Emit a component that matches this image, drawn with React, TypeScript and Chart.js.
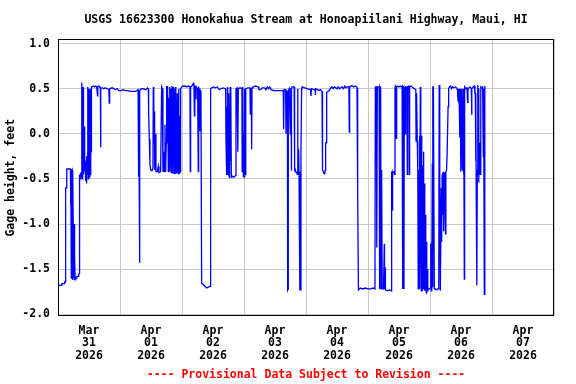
import React, { useEffect, useRef } from 'react';
import { Chart, registerables } from 'chart.js';

Chart.register(...registerables);

const TITLE = 'USGS 16623300 Honokahua Stream at Honoapiilani Highway, Maui, HI';
const FOOTER = '---- Provisional Data Subject to Revision ----';
const Y_TITLE = 'Gage height, feet';

// x axis: hours since 2026-03-31 00:00 (local), one label per day at noon
const dayLabels: string[][] = [
  ['Mar', '31', '2026'],
  ['Apr', '01', '2026'],
  ['Apr', '02', '2026'],
  ['Apr', '03', '2026'],
  ['Apr', '04', '2026'],
  ['Apr', '05', '2026'],
  ['Apr', '06', '2026'],
  ['Apr', '07', '2026'],
];
const xTickHours = [0, 12, 24, 36, 48, 60, 72, 84, 96, 108, 120, 132, 144, 156, 168, 180, 192];
const yTicks = [-2, -1.5, -1, -0.5, 0, 0.5, 1];

// gage height readings [hour, feet], grouped by day
const mar31: [number, number][] = [
  [0, -1.68], [1.4, -1.68], [1.5, -1.66], [2.5, -1.66], [2.6, -1.64], [2.8, -1.64], [2.9, -1.5],
  [3.0, -0.6], [3.2, -0.6], [3.4, -0.39], [4.8, -0.39], [4.9, -0.8], [5.0, -0.4], [5.15, -1.6],
  [5.3, -0.41], [5.45, -0.4], [5.6, -1.62], [5.75, -0.4], [5.9, -1.0], [6.05, -1.6], [6.2, -1.0],
  [6.35, -1.62], [6.5, -1.36], [6.65, -1.62], [6.8, -1.6], [7.2, -1.6], [7.3, -1.58], [7.8, -1.58],
  [8.0, -1.56], [8.2, -1.55], [8.3, -0.45], [8.4, -0.45], [8.6, -0.5], [8.8, -0.43], [9.0, -0.47],
  [9.15, -0.44], [9.28, 0.57], [9.4, -0.5], [9.55, -0.4], [9.7, 0.52], [9.8, 0.0], [9.95, -0.45],
  [10.1, -0.35], [10.25, 0.08], [10.4, -0.38], [10.55, -0.3], [10.7, -0.52], [10.85, -0.35],
  [11.0, -0.55], [11.15, -0.25], [11.3, -0.45], [11.45, -0.18], [11.6, 0.52], [11.7, -0.5],
  [11.85, 0.5], [11.95, -0.2], [12.1, -0.48], [12.2, 0.48], [12.35, -0.3], [12.5, 0.5],
  [12.6, -0.46], [12.75, 0.5], [12.85, -0.2], [12.95, 0.52], [13.2, 0.52], [13.8, 0.53],
  [14.2, 0.52], [14.6, 0.53], [15.0, 0.52], [15.3, 0.42], [15.4, 0.52], [15.9, 0.53], [16.4, 0.51],
  [16.5, -0.15], [16.6, 0.51], [17.2, 0.51], [17.7, 0.5], [18.3, 0.51], [19.0, 0.5], [19.7, 0.49],
  [19.85, 0.34], [20.0, 0.5], [21.0, 0.51], [22.2, 0.49], [23.0, 0.5], [23.5, 0.48],
];
const apr01: [number, number][] = [
  [24.5, 0.48], [25.2, 0.49], [26.0, 0.48], [27.0, 0.48], [28.0, 0.47], [29.0, 0.47], [30.0, 0.47],
  [30.6, 0.48], [31.0, 0.49], [31.2, -0.47], [31.4, -0.47], [31.55, -1.43], [31.7, 0.48],
  [32.3, 0.5], [33.0, 0.5], [34.0, 0.49], [34.6, 0.51], [34.96, 0.5], [35.08, 0.25], [35.34, -0.06],
  [35.6, -0.34], [35.86, -0.4], [36.38, -0.41], [36.76, -0.38], [36.89, 0.52], [37.02, 0.5],
  [37.15, -0.1], [37.28, 0.25], [37.41, -0.4], [37.67, 0.0], [37.92, -0.42], [38.44, -0.42],
  [38.83, -0.36], [39.08, -0.43], [39.73, -0.42], [40.12, 0.52], [40.38, 0.5], [40.63, -0.42],
  [40.89, -0.2], [41.15, -0.42], [41.41, 0.1], [41.66, -0.42], [41.92, -0.1], [42.05, 0.53],
  [42.31, -0.1], [42.44, 0.53], [42.7, -0.42], [42.83, 0.4], [43.08, -0.3], [43.21, 0.52],
  [43.34, -0.42], [43.6, 0.5], [43.73, -0.2], [43.86, -0.43], [44.12, 0.53], [44.25, -0.4],
  [44.37, 0.2], [44.5, -0.44], [44.63, 0.52], [44.76, -0.3], [44.89, 0.0], [45.02, -0.44],
  [45.15, 0.5], [45.28, -0.42], [45.41, 0.3], [45.54, -0.44], [45.67, 0.52], [45.8, -0.35],
  [45.92, 0.1], [46.05, -0.44], [46.18, 0.45], [46.31, -0.42], [46.44, -0.1], [46.57, -0.44],
  [46.7, 0.5], [46.83, -0.4], [46.95, 0.1], [47.08, -0.44], [47.21, 0.2], [47.34, -0.42],
  [47.47, 0.5], [47.86, 0.52],
];
const apr02: [number, number][] = [
  [48.5, 0.53], [49.15, 0.53], [49.79, 0.52], [50.44, 0.53], [51.08, 0.52], [51.21, -0.42],
  [51.34, 0.52], [51.86, 0.53], [52.12, 0.55], [52.38, 0.56], [52.63, 0.54], [52.8, 0.2],
  [52.95, 0.53], [53.28, 0.52], [53.41, 0.38], [53.54, 0.52], [54.05, 0.5], [54.31, -0.42],
  [54.44, 0.5], [54.7, 0.48], [54.9, 0.03], [55.05, 0.48], [55.34, 0.45], [55.6, -1.66],
  [56.25, -1.67], [56.89, -1.69], [57.54, -1.71], [58.18, -1.7], [58.96, -1.69], [59.08, 0.5],
  [59.47, 0.51], [60.12, 0.52], [60.76, 0.51], [61.66, 0.52], [62.44, 0.49], [62.96, 0.5],
  [64.0, 0.51], [64.89, 0.5], [65.02, -0.06], [65.28, -0.45], [65.4, 0.3], [65.5, -0.42],
  [65.65, 0.52], [65.75, -0.2], [65.9, -0.45], [66.05, 0.45], [66.2, -0.47], [66.35, 0.1],
  [66.5, -0.48], [66.65, 0.52], [66.8, -0.3], [66.96, 0.52], [67.1, -0.48], [67.3, -0.47],
  [67.6, -0.47], [68.0, -0.48], [68.5, -0.47], [68.85, -0.46], [68.9, 0.5], [69.3, 0.51],
  [69.55, 0.5], [69.66, -0.2], [69.8, 0.5], [70.5, 0.51], [71.2, 0.5], [71.3, -0.42], [71.45, 0.5],
  [71.6, 0.52], [71.75, -0.47], [71.9, 0.0],
];
const apr03: [number, number][] = [
  [72.0, -0.48], [72.15, 0.5], [72.3, -0.45], [72.45, 0.1], [72.6, -0.46], [72.76, 0.5],
  [73.5, 0.51], [74.3, 0.51], [74.45, 0.22], [74.6, 0.5], [74.85, 0.5], [74.96, -0.17],
  [75.1, 0.51], [75.4, 0.52], [76.5, 0.53], [77.6, 0.52], [77.8, 0.49], [78.5, 0.49], [79.0, 0.51],
  [80.0, 0.51], [80.5, 0.49], [81.0, 0.52], [81.5, 0.5], [82.0, 0.52], [82.5, 0.49], [83.5, 0.48],
  [84.5, 0.48], [85.5, 0.48], [86.5, 0.48], [87.2, 0.48], [87.34, 0.05], [87.5, 0.49], [88.1, 0.49],
  [88.25, 0.0], [88.4, 0.47], [88.8, 0.47], [88.9, -1.73], [89.05, -1.72], [89.15, 0.48],
  [89.5, 0.5], [89.8, 0.5], [89.92, 0.0], [90.1, 0.5], [90.2, 0.5], [90.31, -0.41], [90.45, 0.5],
  [90.6, 0.52], [91.4, 0.52], [91.6, -0.4], [91.8, -0.42], [92.0, -0.41], [92.2, -0.43],
  [92.4, -0.42], [92.6, -0.45], [92.76, 0.5], [92.9, -0.3], [93.15, -0.17], [93.3, -0.43],
  [93.55, -0.42], [93.67, -1.73], [93.8, -1.73], [94.05, -0.17], [94.3, 0.5], [94.44, 0.52],
  [95.5, 0.51],
];
const apr04: [number, number][] = [
  [96.5, 0.5], [97.5, 0.49], [97.8, 0.49], [97.92, 0.42], [98.1, 0.5], [99.0, 0.49], [99.5, 0.49],
  [99.6, 0.43], [99.75, 0.5], [100.4, 0.49], [101.0, 0.48], [101.6, 0.49], [102.2, 0.47],
  [102.35, 0.47], [102.44, -0.4], [102.7, -0.42], [103.0, -0.44], [103.3, -0.43], [103.47, -0.4],
  [103.6, -0.1], [103.86, -0.1], [104.0, 0.46], [104.5, 0.47], [105.0, 0.48], [105.4, 0.5],
  [106.0, 0.52], [106.5, 0.5], [107.0, 0.52], [107.5, 0.51], [108.0, 0.5], [108.5, 0.52],
  [109.0, 0.5], [109.5, 0.51], [110.0, 0.52], [110.5, 0.5], [111.0, 0.53], [111.5, 0.51],
  [112.0, 0.52], [112.6, 0.52], [112.76, 0.02], [112.9, 0.52], [113.5, 0.53], [114.0, 0.53],
  [114.5, 0.52], [115.0, 0.53], [115.6, 0.52], [115.75, 0.51], [115.9, -0.63], [116.1, -0.65],
  [116.3, -1.73], [117.0, -1.71], [118.0, -1.72], [119.0, -1.71],
];
const apr05: [number, number][] = [
  [120.0, -1.72], [121.0, -1.72], [122.0, -1.71], [122.7, -1.72], [122.83, 0.52], [123.2, 0.52],
  [123.4, -1.26], [123.6, 0.52], [124.3, 0.52], [124.5, -1.72], [124.65, 0.52], [124.9, 0.5],
  [125.05, -1.72], [125.2, -1.72], [125.35, -0.4], [125.5, -1.72], [126.0, -1.72], [126.3, -1.22],
  [126.4, -1.72], [126.6, -1.48], [126.75, -1.73], [127.5, -1.74], [128.2, -1.73], [129.0, -1.74],
  [129.15, -0.43], [129.3, -0.42], [129.45, -0.85], [129.6, -0.43], [130.0, -0.42], [130.3, -0.45],
  [130.45, 0.5], [130.6, 0.53], [130.8, 0.52], [130.96, -0.05], [131.1, 0.52], [131.5, 0.53],
  [132.0, 0.52], [132.5, 0.53], [132.9, 0.52], [133.2, 0.53], [133.35, -1.72], [133.5, 0.5],
  [133.8, 0.52], [133.92, -1.72], [134.05, 0.5], [134.3, 0.52], [134.44, 0.0], [134.57, 0.52],
  [135.08, 0.52], [135.21, -0.45], [135.34, 0.52], [135.85, 0.53], [135.99, -0.45], [136.12, 0.52],
  [136.76, 0.53], [137.4, 0.51], [138.0, 0.5], [138.5, 0.49], [138.6, -0.08], [138.8, 0.45],
  [139.08, -0.08], [139.22, -0.45], [139.34, -0.45], [139.45, -1.72], [139.6, -0.4], [139.75, -1.1],
  [139.9, -0.4], [140.0, -0.02], [140.12, -1.72], [140.25, 0.52], [140.37, -0.43], [140.5, -1.0],
  [140.63, -1.74], [140.75, -0.02], [140.89, -1.2], [141.0, -0.35], [141.15, -1.74], [141.3, -0.5],
  [141.41, -0.2], [141.55, -1.72], [141.66, -0.6], [141.8, -1.4], [141.92, -0.55], [142.05, -1.74],
  [142.18, -0.9], [142.3, -1.72], [142.44, -1.35], [142.55, -1.76], [142.7, -1.2], [142.8, -1.74],
  [142.95, -1.72], [143.1, -1.5], [143.2, -1.73], [143.5, -1.72], [143.86, -1.72],
];
const apr06: [number, number][] = [
  [144.1, -1.71], [144.24, -1.7], [144.35, -1.22], [144.5, -1.74], [144.6, -1.2], [144.75, -1.72],
  [144.89, -0.33], [145.02, -1.7], [145.15, 0.52], [145.3, 0.52], [145.5, 0.52], [145.67, -1.72],
  [146.0, -1.72], [146.5, -1.73], [147.0, -1.72], [147.4, -1.72], [147.55, 0.54], [147.7, -0.6],
  [147.86, -0.62], [148.0, -1.74], [148.2, -1.74], [148.35, -0.6], [148.5, -1.2], [148.7, -0.45],
  [148.89, -0.43], [149.0, -0.9], [149.15, -0.42], [149.3, -1.08], [149.45, -0.43], [149.6, -0.45],
  [149.8, -0.5], [150.0, -1.11], [150.15, -0.42], [150.4, -0.4], [150.6, -0.25], [150.83, -0.25],
  [151.0, 0.3], [151.22, 0.5], [151.5, 0.52], [152.0, 0.53], [152.3, 0.5], [152.8, 0.52],
  [153.3, 0.51], [153.8, 0.52], [154.3, 0.51], [154.7, 0.48], [154.83, 0.36], [154.96, 0.5],
  [155.1, 0.34], [155.2, 0.5], [155.34, 0.3], [155.47, 0.5], [155.6, -0.04], [155.73, 0.5],
  [155.85, 0.45], [155.99, -0.42], [156.12, 0.5], [156.25, 0.0], [156.38, 0.5], [156.5, -0.39],
  [156.63, 0.3], [156.76, -0.4], [156.89, 0.5], [157.02, -0.45], [157.15, 0.0], [157.28, -1.61],
  [157.41, 0.52], [157.8, 0.5], [158.3, 0.51], [158.57, 0.35], [158.7, 0.5], [159.5, 0.52],
  [160.0, 0.5], [160.12, 0.21], [160.25, 0.5], [160.7, 0.52], [161.15, 0.53], [161.4, 0.45],
  [161.54, 0.45], [161.67, -0.3], [161.8, 0.3], [161.93, -0.85], [162.05, -0.4], [162.18, -1.68],
  [162.31, -0.45], [162.44, 0.54], [162.57, 0.5], [162.7, 0.5], [162.83, -0.54], [162.96, -0.45],
  [163.09, -0.45], [163.22, -0.1], [163.35, -0.42], [163.5, -0.45], [163.6, -0.45], [163.73, 0.52],
  [164.0, 0.51], [164.38, 0.52], [164.5, 0.52], [164.64, -0.25], [164.77, 0.5], [164.9, -0.2],
  [165.02, -1.78], [165.15, 0.5], [165.28, 0.53],
];

const FONT_FAMILY = '"DejaVu Sans Mono", monospace';

export default function App() {
  const ref = useRef<HTMLCanvasElement>(null);

  useEffect(() => {
    document.body.style.margin = '0';
    const readings = [...mar31, ...apr01, ...apr02, ...apr03, ...apr04, ...apr05, ...apr06];
    const data = readings.map(([h, v]) => ({ x: h, y: v }));
    const font = { family: FONT_FAMILY, size: 11.5, weight: 'bold' as const, lineHeight: 1.2 };

    const frame = {
      id: 'frame',
      afterDraw(chart: any) {
        const { ctx, chartArea: a } = chart;
        ctx.save();
        ctx.strokeStyle = '#000';
        ctx.lineWidth = 1;
        const l = Math.round(a.left) + 0.5;
        const t = Math.round(a.top) + 0.5;
        const r = Math.round(a.right) - 0.5;
        const b = Math.round(a.bottom) - 0.5;
        ctx.strokeRect(l, t, r - l, b - t);
        ctx.restore();
      },
    };

    const chart = new Chart(ref.current as HTMLCanvasElement, {
      type: 'line',
      data: {
        datasets: [
          {
            data,
            borderColor: '#0000ff',
            borderWidth: 1.3,
            pointRadius: 0,
            tension: 0,
            fill: false,
          },
        ],
      },
      options: {
        animation: false,
        responsive: false,
        events: [],
        layout: { padding: { left: 0, right: 22, top: 0, bottom: 0 } },
        plugins: {
          legend: { display: false },
          tooltip: { enabled: false },
          title: {
            display: true,
            text: TITLE,
            fullSize: false,
            color: '#000',
            font,
            padding: { top: 13, bottom: 12.5 },
          },
          subtitle: {
            display: true,
            position: 'bottom',
            text: FOOTER,
            fullSize: false,
            color: '#ff0000',
            font,
            padding: { top: 0, bottom: 2 },
          },
        },
        scales: {
          x: {
            type: 'linear',
            min: 0,
            max: 192,
            afterBuildTicks: (s: any) => {
              s.ticks = xTickHours.map((v) => ({ value: v }));
            },
            afterFit: (s: any) => {
              s.height = 52;
            },
            border: { display: false },
            grid: {
              drawTicks: false,
              lineWidth: 1,
              color: (c: any) =>
                c.tick && c.tick.value % 24 === 0 ? '#c8c8c8' : 'rgba(0,0,0,0)',
            },
            ticks: {
              autoSkip: false,
              maxRotation: 0,
              minRotation: 0,
              padding: 8,
              color: '#000',
              font: { ...font, lineHeight: 1.1 },
              callback: (v: any) => {
                const n = Number(v);
                return n % 24 === 12 ? dayLabels[(n - 12) / 24] : '';
              },
            },
          },
          y: {
            type: 'linear',
            min: -2.022,
            max: 1.048,
            afterBuildTicks: (s: any) => {
              s.ticks = yTicks.map((v) => ({ value: v }));
            },
            afterFit: (s: any) => {
              s.width = 58;
            },
            border: { display: false },
            grid: { drawTicks: false, lineWidth: 1, color: '#c8c8c8' },
            ticks: {
              padding: 8,
              color: '#000',
              font,
              callback: (v: any) => Number(v).toFixed(1),
            },
            title: {
              display: true,
              text: Y_TITLE,
              color: '#000',
              font,
              padding: { top: 4, bottom: 0 },
            },
          },
        },
      },
      plugins: [frame],
    });

    return () => chart.destroy();
  }, []);

  return <canvas ref={ref} width={576} height={384} style={{ display: 'block' }} />;
}
